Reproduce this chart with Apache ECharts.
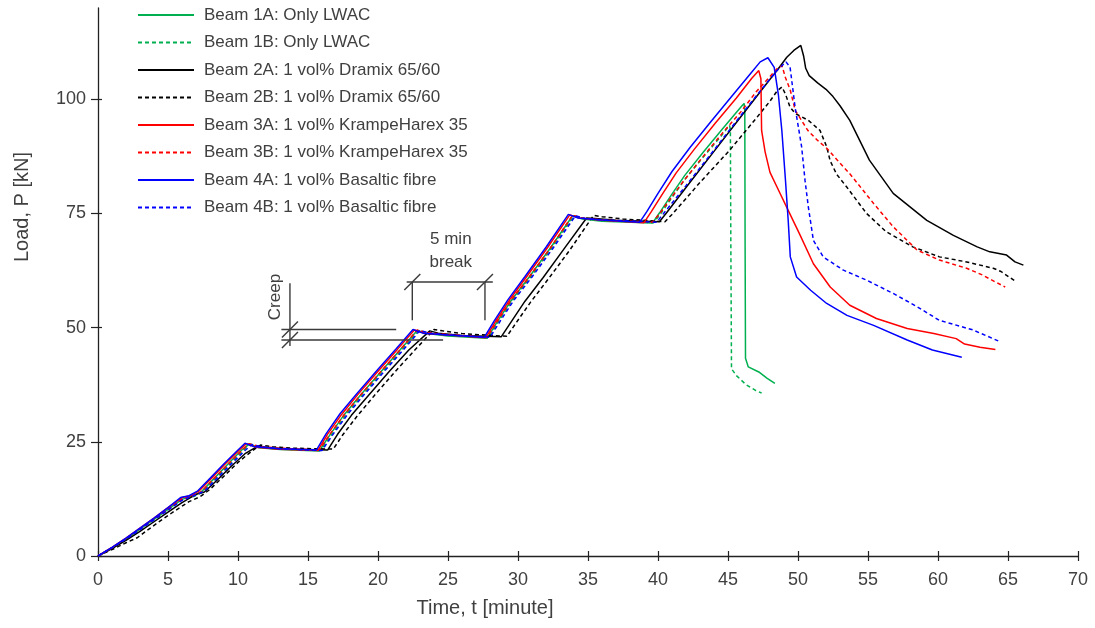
<!DOCTYPE html>
<html><head><meta charset="utf-8">
<script src="https://cdn.jsdelivr.net/npm/echarts@6/dist/echarts.min.js"></script>
<style>html,body{margin:0;padding:0;background:#fff}#c{width:1095px;height:628px}</style>
</head><body><div id="c"></div>
<script>
// ---------- DATA (time [min], load [kN]) ----------
const seriesNames = [
  'Beam 1A: Only LWAC',
  'Beam 1B: Only LWAC',
  'Beam 2A: 1 vol% Dramix 65/60',
  'Beam 2B: 1 vol% Dramix 65/60',
  'Beam 3A: 1 vol% KrampeHarex 35',
  'Beam 3B: 1 vol% KrampeHarex 35',
  'Beam 4A: 1 vol% Basaltic fibre',
  'Beam 4B: 1 vol% Basaltic fibre'
];
const xTicks = [0,5,10,15,20,25,30,35,40,45,50,55,60,65,70];
const yTicks = [0,25,50,75,100];

const beam1A = [[0,0],[1,1.8],[2,3.7],[3,5.9],[4,8.0],[5,10.2],[6,12.4],[6.8,13.2],[7.4,14.1],[8.3,17.0],[9.3,20.2],[10.3,23.3],[10.8,24.5],
[11.5,23.7],[13,23.3],[15.8,23.0],
[16.6,26.7],[17.6,31.0],[18.8,35.4],[20.3,40.7],[21.6,45.2],[22.8,49.4],
[23.5,48.7],[25,48.2],[27.8,47.7],
[28.5,51.2],[29.5,55.9],[30.8,61.1],[32.3,67.4],[33.9,74.5],
[34.6,73.8],[36,73.3],[39.6,72.9],
[40.1,75.1],[40.9,78.8],[41.9,83.3],[43.2,88.3],[44.6,93.5],[45.5,96.8],[46.0,98.6],[46.15,99.1],
[46.2,97.5],[46.22,70],[46.25,43.3],[46.45,41.4],[47.2,40.3],[47.8,38.9],[48.35,37.8]];

const beam1B = [[0,0],[1,1.8],[2,3.7],[3,5.8],[4,7.9],[5,10.1],[6,12.3],[6.9,13.1],[7.5,14.0],[8.4,16.9],[9.4,20.1],[10.4,23.2],[10.9,24.5],
[11.6,23.8],[13,23.4],[15.9,23.1],
[16.7,26.6],[17.7,30.9],[18.9,35.3],[20.4,40.6],[21.7,45.1],[22.9,49.4],
[23.6,48.8],[25,48.4],[27.9,47.8],
[28.6,51.3],[29.6,56.0],[30.9,61.1],[32.4,67.4],[34.0,74.5],
[34.7,73.9],[36,73.5],[39.7,73.0],
[40.2,75.0],[41.0,78.5],[42.0,82.8],[43.3,87.6],[44.5,91.9],[45.1,94.3],
[45.17,93.5],[45.2,70],[45.25,41.0],[45.6,39.5],[46.3,37.5],[47.0,36.2],[47.4,35.7]];

const beam2A = [[0,0],[1,1.6],[2,3.4],[3,5.4],[4,7.5],[5,9.6],[6,11.7],[7,13.5],[7.6,14.0],[8.5,16.6],[9.5,19.6],[10.5,22.4],[11.45,24.1],
[12.3,23.6],[14,23.4],[16.4,23.2],
[17.1,26.6],[18.1,30.8],[19.3,35.1],[20.8,40.4],[22.2,45.1],[23.7,49.3],
[24.3,48.8],[26,48.3],[28.8,48.0],
[29.5,51.2],[30.5,55.8],[31.8,61.0],[33.3,67.3],[34.9,74.0],
[35.5,73.9],[37,73.5],[40.1,73.2],
[40.6,75.1],[42,80.7],[44,88.6],[46,96.5],[48,104.4],[48.5,106.3],[49.2,109.2],[49.7,110.7],[50.2,111.8],
[50.4,109.5],[50.55,106.8],[50.8,105.2],[51.4,103.6],[52.0,102.2],[52.5,100.6],[53.0,98.6],[53.7,95.4],[55.1,86.7],[56.8,79.4],[59.2,73.5],[61.1,70.2],[62.8,67.7],[63.7,66.6],[64.9,65.9],[65.5,64.4],[66.1,63.7]];

const beam2B = [[0,0],[1,1.4],[2,2.9],[2.8,4.0],[3.5,5.6],[4.5,7.8],[5.5,9.9],[6.5,11.9],[7.3,13.0],[8,14.6],[9,17.5],[10,20.5],[11,23.0],[11.6,24.3],
[12.5,23.9],[14,23.6],[16.8,23.4],
[17.5,26.6],[18.5,30.6],[19.7,35.0],[21.2,40.3],[22.6,45.0],[24.0,49.6],
[24.6,49.3],[26,48.7],[29.2,48.1],
[29.9,51.2],[30.9,55.6],[32.2,60.8],[33.7,67.0],[35.4,74.6],
[36,74.3],[37.5,73.8],[40.5,73.2],
[41,74.8],[43,81.8],[45.1,88.8],[47,95.8],[48,99.6],[48.5,101.8],[48.85,102.7],
[49.1,101.2],[49.43,98.3],[49.8,96.9],[50.74,95.4],[51.57,93.2],[52.05,89.6],[52.3,86.5],[52.76,83.6],[53.48,80.8],[54.9,75.0],[56.3,71.0],[58.2,67.7],[60.1,65.5],[62.05,64.4],[63.95,63.0],[64.5,62.3],[65.6,60.0]];

const beam3A = [[0,0],[1,1.9],[2,3.9],[3,6.1],[4,8.3],[5,10.6],[6,12.8],[6.6,13.2],[7.2,14.2],[8.1,17.0],[9.1,20.2],[10.1,23.2],[10.6,24.6],
[11.3,23.8],[13,23.4],[15.7,23.1],
[16.4,26.7],[17.4,31.0],[18.6,35.5],[20.1,40.8],[21.4,45.3],[22.6,49.5],
[23.3,48.8],[25,48.4],[27.7,47.8],
[28.4,51.4],[29.4,56.1],[30.6,61.1],[32.1,67.5],[33.7,74.7],
[34.4,74.0],[36,73.5],[39.0,73.0],
[39.5,75.3],[40.3,79.2],[41.3,83.9],[42.6,89.1],[44.1,94.8],[45.6,100.3],[46.7,104.6],[47.2,106.3],
[47.35,104.5],[47.4,93.2],[47.65,88.5],[48.0,84.0],[48.5,80.8],[49.3,75.7],[50.1,70.6],[51.1,64.0],[52.3,58.9],[53.7,54.9],[55.6,52.0],[57.8,49.8],[59.7,48.7],[61.3,47.6],[61.9,46.4],[63.0,45.7],[64.1,45.2]];

const beam3B = [[0,0],[1,1.8],[2,3.8],[3,6.0],[4,8.1],[5,10.3],[6,12.5],[6.8,13.2],[7.4,14.1],[8.3,17.0],[9.3,20.1],[10.3,23.2],[10.8,24.6],
[11.5,24.0],[13,23.6],[15.8,23.2],
[16.6,26.8],[17.6,31.0],[18.8,35.4],[20.3,40.7],[21.6,45.2],[22.8,49.5],
[23.5,48.9],[25,48.5],[27.8,47.9],
[28.5,51.3],[29.5,56.0],[30.8,61.1],[32.3,67.4],[33.9,74.6],
[34.6,74.0],[36,73.6],[39.6,73.1],
[40.1,74.9],[40.9,78.3],[41.9,82.4],[43.2,87.4],[44.6,92.6],[45.9,97.2],[47.0,101.6],[48.0,105.0],[48.5,106.7],[48.85,107.4],
[49.1,104.8],[49.45,102.0],[49.8,97.6],[50.7,93.2],[51.4,91.0],[52.05,89.3],[52.8,86.7],[53.7,83.7],[55.4,77.2],[56.8,72.1],[58.5,67.0],[60.1,64.8],[62.05,63.0],[63.2,61.5],[64.1,60.0],[64.8,58.9]];

const beam4A = [[0,0],[1,1.9],[2,3.9],[3,6.1],[4,8.3],[5,10.6],[5.9,12.8],[6.5,13.2],[7.1,14.2],[8,17.0],[9,20.2],[10,23.2],[10.5,24.7],
[11.2,23.9],[13,23.5],[15.6,23.2],
[16.3,26.8],[17.3,31.2],[18.5,35.6],[20,40.9],[21.3,45.4],[22.5,49.6],
[23.2,48.8],[25,48.4],[27.6,47.9],
[28.3,51.5],[29.3,56.2],[30.5,61.2],[32,67.6],[33.6,74.8],
[34.3,74.0],[36,73.6],[38.7,73.1],
[39.2,75.4],[40,79.4],[41,84.2],[42.3,89.5],[43.8,95.2],[45.3,100.8],[46.6,105.6],[47.3,108.2],[47.85,109.1],
[48.3,107],[48.6,101],[48.85,93],[49.1,82.5],[49.3,73.5],[49.45,65.5],[49.9,61.1],[50.9,58.2],[52.05,55.3],[53.5,52.7],[55.4,50.5],[57.8,47.3],[59.6,45.1],[61.7,43.5]];

const beam4B = [[0,0],[1,1.8],[2,3.7],[3,5.8],[4,7.9],[5,10.1],[6,12.2],[7,13.4],[7.6,14.2],[8.5,17.0],[9.5,20.1],[10.5,23.1],[11.0,24.4],
[11.7,23.9],[13,23.5],[16.0,23.1],
[16.8,26.7],[17.8,30.9],[19.0,35.3],[20.5,40.6],[21.8,45.1],[23.0,49.4],
[23.7,48.8],[25,48.4],[28.0,47.9],
[28.7,51.3],[29.7,56.0],[31.0,61.1],[32.5,67.4],[34.1,74.5],
[34.8,73.9],[36,73.6],[39.9,73.1],
[40.4,75.0],[42,81.1],[44,88.9],[46,96.8],[47.5,102.6],[48.5,106.3],[49.14,108.2],
[49.43,107.1],[49.6,103],[49.79,98.3],[50.26,89.6],[50.5,82.3],[50.74,76.4],[51.1,69.1],[51.8,65.5],[53.24,62.6],[54.9,60.4],[56.8,57.5],[58.5,54.6],[60.1,51.6],[62.5,49.5],[64.3,47.1]];

// annotation geometry in data units [t, P]
const annoLines = [
  [[13.71,59.7],[13.71,46.0]],   // creep vertical
  [[13.1,49.6],[21.3,49.6]],     // creep upper
  [[13.1,47.3],[24.65,47.3]],    // creep lower
  [[22.45,60.0],[22.45,51.6]],   // break left
  [[27.64,60.0],[27.64,51.6]],   // break right
  [[22.05,60.0],[28.2,60.0]]     // break top
];
const annoMarks = [[13.71,49.6],[13.71,47.3],[22.45,60.0],[27.64,60.0]];
const annoTexts = [
  {text:'Creep', at:[12.64,56.7], rotate:true},
  {text:'5 min', at:[25.2,69.4], rotate:false},
  {text:'break', at:[25.2,64.3], rotate:false}
];

// ---------- STYLE ----------
const allData = [beam1A, beam1B, beam2A, beam2B, beam3A, beam3B, beam4A, beam4B];
const colors = ['#00b050','#00b050','#000000','#000000','#ff0000','#ff0000','#0000ff','#0000ff'];
const dashed = [false,true,false,true,false,true,false,true];
const FONT = 'Liberation Sans';
const TXT = '#404040';

const chart = echarts.init(document.getElementById('c'), null, {renderer:'canvas'});
const series = allData.map((d,i) => ({
  name: seriesNames[i], type:'line', data:d, showSymbol:false, symbol:'none',
  xAxisIndex:0, yAxisIndex:0,
  lineStyle:{color:colors[i], width:1.5, type: dashed[i] ? [4,3] : 'solid'},
  itemStyle:{color:colors[i]}, silent:true, animation:false, z: 2
}));

const axisCommon = {
  axisLine:{show:true, onZero:false, lineStyle:{color:'#222', width:1.3}},
  splitLine:{show:false}
};

const option = {
  animation:false,
  backgroundColor:'#fff',
  grid:{left:98, right:17, top:8, bottom:72, containLabel:false},
  legend:{
    orient:'vertical', left:137, top:6, padding:0, itemWidth:56, itemHeight:14, itemGap:9.5,
    data: seriesNames,
    itemStyle:{opacity:0},
    textStyle:{fontFamily:FONT, fontSize:17, color:TXT, lineHeight:18, padding:[0,0,0,5]},
    selectedMode:false
  },
  xAxis:[
    Object.assign({type:'value', min:0, max:70, interval:5, position:'bottom',
      axisTick:{show:true, inside:false, length:5, lineStyle:{color:'#222', width:1.2}, customValues:xTicks},
      axisLabel:{fontFamily:FONT, fontSize:18, color:TXT, margin:15, customValues:xTicks}}, axisCommon),
    {type:'value', min:0, max:70, interval:5, position:'bottom', axisLine:{show:false},
      axisTick:{show:true, inside:true, length:5, lineStyle:{color:'#222', width:1.2}, customValues:xTicks},
      axisLabel:{show:false}, splitLine:{show:false}}
  ],
  yAxis:[
    Object.assign({type:'value', min:0, max:120, interval:25, position:'left',
      axisTick:{show:true, inside:false, length:7, lineStyle:{color:'#222', width:1.2}, customValues:yTicks},
      axisLabel:{fontFamily:FONT, fontSize:18, color:TXT, margin:12, customValues:yTicks}}, axisCommon),
    {type:'value', min:0, max:120, interval:25, position:'left', axisLine:{show:false},
      axisTick:{show:true, inside:true, length:4, lineStyle:{color:'#222', width:1.2}, customValues:yTicks},
      axisLabel:{show:false}, splitLine:{show:false}}
  ],
  series: series
};
chart.setOption(option);

const P = p => chart.convertToPixel({xAxisIndex:0, yAxisIndex:0}, p);
const stroke = {stroke:'#3a3a3a', lineWidth:1.4};
const g = [];
annoLines.forEach(seg => {
  const a = P(seg[0]), b = P(seg[1]);
  g.push({type:'line', silent:true, z:5, shape:{x1:a[0],y1:a[1],x2:b[0],y2:b[1]}, style:stroke});
});
annoMarks.forEach(m => {
  const c = P(m);
  g.push({type:'line', silent:true, z:5, shape:{x1:c[0]-8,y1:c[1]+8,x2:c[0]+8,y2:c[1]-8}, style:stroke});
});
annoTexts.forEach(t => {
  const c = P(t.at);
  g.push({type:'text', silent:true, z:5, x:c[0], y:c[1], rotation: t.rotate ? Math.PI/2 : 0,
    style:{text:t.text, fill:TXT, font:'17px "' + FONT + '"', align:'center', verticalAlign:'middle'}});
});
// axis titles
g.push({type:'text', silent:true, x:485, y:608,
  style:{text:'Time, t [minute]', fill:TXT, font:'20px "' + FONT + '"', align:'center', verticalAlign:'middle'}});
g.push({type:'text', silent:true, x:22, y:207, rotation:Math.PI/2,
  style:{text:'Load, P [kN]', fill:TXT, font:'20px "' + FONT + '"', align:'center', verticalAlign:'middle'}});
chart.setOption({graphic: g});
</script>
</body></html>
